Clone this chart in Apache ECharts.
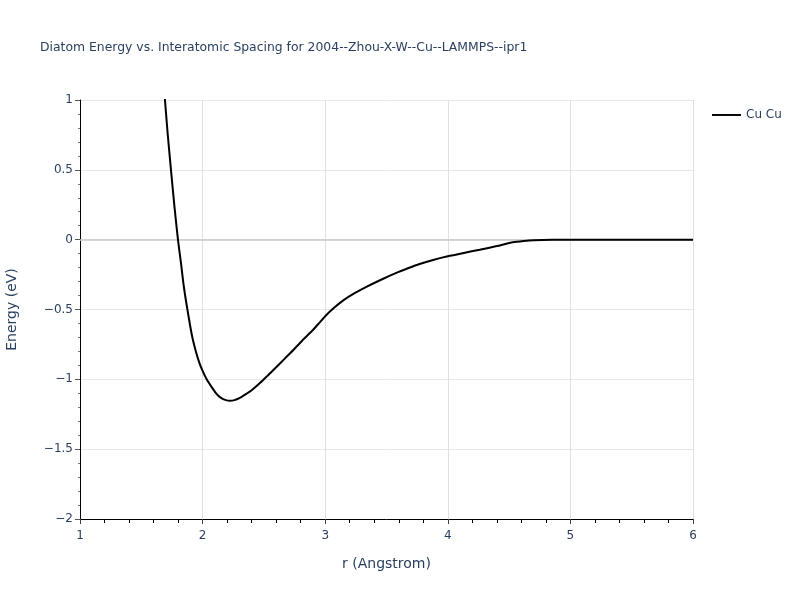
<!DOCTYPE html>
<html>
<head>
<meta charset="utf-8">
<script src="https://cdn.jsdelivr.net/npm/echarts@6/dist/echarts.min.js"></script>
<style>html,body{margin:0;padding:0;background:#fff}#c{width:800px;height:600px}</style>
</head>
<body>
<div id="c"></div>
<script>
const titleText = 'Diatom Energy vs. Interatomic Spacing for 2004--Zhou-X-W--Cu--LAMMPS--ipr1';
const seriesName = 'Cu Cu';
const rValues = [1.685, 1.693, 1.715, 1.742, 1.77, 1.799, 1.824, 1.846, 1.876, 1.914, 1.945, 1.973, 2.0, 2.033, 2.07, 2.11, 2.15, 2.19, 2.225, 2.26, 2.30, 2.35, 2.40, 2.47, 2.53, 2.60, 2.67, 2.74, 2.81, 2.89, 2.95, 3.0, 3.07, 3.15, 3.24, 3.34, 3.46, 3.58, 3.68, 3.77, 3.88, 4.0, 4.13, 4.26, 4.40, 4.53, 4.62, 4.70, 4.85, 5.0, 5.5, 6.0];
const energyValues = [1.09, 1.0, 0.76, 0.5, 0.24, 0.0, -0.17, -0.33, -0.5, -0.69, -0.80, -0.88, -0.94, -1.0, -1.05, -1.10, -1.133, -1.149, -1.153, -1.149, -1.135, -1.108, -1.078, -1.025, -0.974, -0.913, -0.852, -0.79, -0.725, -0.656, -0.598, -0.548, -0.49, -0.433, -0.383, -0.336, -0.285, -0.238, -0.203, -0.174, -0.145, -0.119, -0.095, -0.072, -0.046, -0.019, -0.010, -0.005, -0.001, 0, 0, 0];
const xTicks = [1, 2, 3, 4, 5, 6];
const yTicks = [-2, -1.5, -1, -0.5, 0, 0.5, 1];

const font = '"DejaVu Sans", Verdana, sans-serif';
const txt = '#2a3f5f';
const chart = echarts.init(document.getElementById('c'));
chart.setOption({
  animation: false,
  backgroundColor: '#fff',
  title: {
    text: titleText, left: 35, top: 37,
    textStyle: { fontFamily: font, fontSize: 12.4, fontWeight: 'normal', color: txt }
  },
  legend: {
    data: [{ name: seriesName, icon: 'path://M0,0 L30,0 L30,2 L0,2 Z' }],
    left: 712, top: 109, orient: 'vertical', padding: 0,
    itemWidth: 29, itemHeight: 2,
    textStyle: { fontFamily: font, fontSize: 12, color: txt }
  },
  grid: { left: 80, right: 107, top: 100, bottom: 81, containLabel: false, outerBoundsMode: 'none' },
  xAxis: {
    type: 'value', min: xTicks[0], max: xTicks[xTicks.length - 1], interval: 1,
    name: 'r (Angstrom)', nameLocation: 'middle', nameGap: 38,
    nameTextStyle: { fontFamily: font, fontSize: 14, color: txt },
    axisLine: { show: true, onZero: false, lineStyle: { color: '#000', width: 1 } },
    axisTick: { show: true, length: 5, lineStyle: { color: '#444' } },
    minorTick: { show: true, splitNumber: 5, length: 4, lineStyle: { color: '#000' } },
    axisLabel: { fontFamily: font, fontSize: 12, color: txt, margin: 11 },
    splitLine: { show: true, lineStyle: { color: '#e0e0e0', width: 1 } }
  },
  yAxis: {
    type: 'value', min: yTicks[0], max: yTicks[yTicks.length - 1], interval: 0.5,
    name: 'Energy (eV)', nameLocation: 'middle', nameGap: 61,
    nameTextStyle: { fontFamily: font, fontSize: 14, color: txt },
    axisLine: { show: true, onZero: false, lineStyle: { color: '#000', width: 1 } },
    axisTick: { show: true, length: 5, lineStyle: { color: '#555' } },
    minorTick: { show: true, splitNumber: 5, length: 2, lineStyle: { color: '#777' } },
    axisLabel: {
      fontFamily: font, fontSize: 12, color: txt, margin: 7,
      formatter: v => String(v).replace('-', '\u2212')
    },
    splitLine: { show: true, lineStyle: { color: '#e8e8e8', width: 1 } }
  },
  series: [{
    name: 'zero', type: 'line', data: [], symbol: 'none', z: 1,
    markLine: {
      silent: true, symbol: 'none', label: { show: false }, animation: false,
      lineStyle: { color: '#c8c8c8', width: 1.5, type: 'solid' },
      data: [{ yAxis: 0 }]
    }
  }, {
    name: seriesName, type: 'line', symbol: 'none', clip: true, smooth: 0.2,
    data: rValues.map((r, i) => [r, energyValues[i]]),
    lineStyle: { color: '#000', width: 2 },
    itemStyle: { color: '#000' },
    z: 5
  }]
});
</script>
</body>
</html>
